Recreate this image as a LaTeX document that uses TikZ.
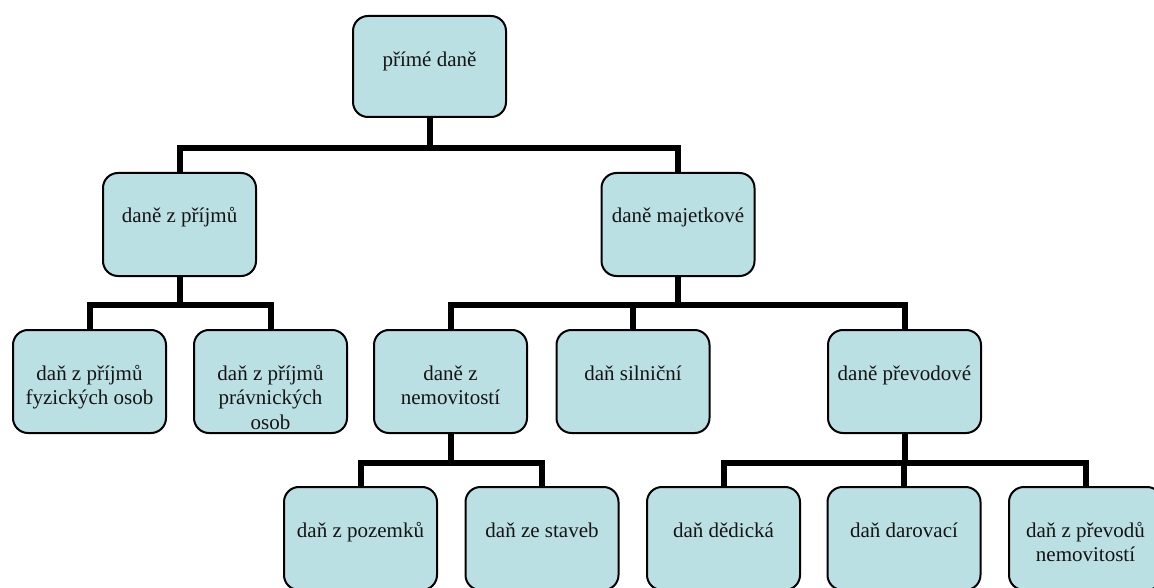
\documentclass[tikz,border=0pt]{standalone}
\usepackage{fontspec}
\setmainfont{Liberation Serif}
\usetikzlibrary{backgrounds}
\definecolor{boxfill}{RGB}{187,224,227}
\definecolor{txt}{RGB}{20,20,20}
\newcommand\btext[1]{\begin{tabular}[t]{@{}c@{}}#1\end{tabular}}
\begin{document}
\begin{tikzpicture}[x=1pt,y=-1pt,
  box/.style={draw=black, line width=2pt, fill=boxfill, rounded corners=15pt,
    minimum width=153pt, minimum height=103pt, inner sep=0pt},
  lbl/.style={anchor=base, inner sep=0pt, text=txt, font=\fontsize{21}{24.5}\selectfont},
  conn/.style={draw=black, line width=6pt, line join=miter, line cap=rect}]
\useasboundingbox (0,0) rectangle (1154,588);
\coordinate (b1) at (0,148);
\coordinate (b2) at (0,305);
\coordinate (b3) at (0,463);
% boxes
\node[box, minimum height=101pt] (root) at (429.5,66.5) {};
\node[box] (inc) at (179.5,224.5) {};
\node[box] (prop) at (678,224.5) {};
\node[box] (fo) at (89.5,381.5) {};
\node[box] (po) at (270.5,381.5) {};
\node[box] (nem) at (450.5,381.5) {};
\node[box] (sil) at (633,381.5) {};
\node[box] (prev) at (904.5,381.5) {};
\node[box] (poz) at (360.5,538.5) {};
\node[box] (sta) at (542,538.5) {};
\node[box] (ded) at (723.5,538.5) {};
\node[box] (dar) at (904,538.5) {};
\node[box] (pn) at (1085.5,538.5) {};
% connectors
\begin{scope}[on background layer]
\draw[conn] (root.south) |- (inc.north |- b1) -- (inc.north);
\draw[conn] (root.south) |- (prop.north |- b1) -- (prop.north);
\draw[conn] (inc.south) |- (fo.north |- b2) -- (fo.north);
\draw[conn] (inc.south) |- (po.north |- b2) -- (po.north);
\draw[conn] (prop.south) |- (nem.north |- b2) -- (nem.north);
\draw[conn] (prop.south) |- (sil.north |- b2) -- (sil.north);
\draw[conn] (prop.south) |- (prev.north |- b2) -- (prev.north);
\draw[conn] (nem.south) |- (poz.north |- b3) -- (poz.north);
\draw[conn] (nem.south) |- (sta.north |- b3) -- (sta.north);
\draw[conn] (prev.south) |- (ded.north |- b3) -- (ded.north);
\draw[conn] (prev.south) |- (dar.north |- b3) -- (dar.north);
\draw[conn] (prev.south) |- (pn.north |- b3) -- (pn.north);
\end{scope}
% texts
\node[lbl] (t-root) at ([yshift=-52pt]root.north) {\btext{přímé daně}};
\node[lbl] (t-inc) at ([yshift=-51pt]inc.north) {\btext{daně z příjmů}};
\node[lbl] (t-prop) at ([yshift=-51pt]prop.north) {\btext{daně majetkové}};
\node[lbl] (t-fo) at ([yshift=-51pt]fo.north) {\btext{daň z příjmů\\fyzických osob}};
\node[lbl] (t-po) at ([yshift=-51pt]po.north) {\btext{daň z příjmů\\právnických\\osob}};
\node[lbl] (t-nem) at ([yshift=-51pt]nem.north) {\btext{daně z\\nemovitostí}};
\node[lbl] (t-sil) at ([yshift=-51pt]sil.north) {\btext{daň silniční}};
\node[lbl] (t-prev) at ([yshift=-51pt]prev.north) {\btext{daně převodové}};
\node[lbl] (t-poz) at ([yshift=-51pt]poz.north) {\btext{daň z pozemků}};
\node[lbl] (t-sta) at ([yshift=-51pt]sta.north) {\btext{daň ze staveb}};
\node[lbl] (t-ded) at ([yshift=-51pt]ded.north) {\btext{daň dědická}};
\node[lbl] (t-dar) at ([yshift=-51pt]dar.north) {\btext{daň darovací}};
\node[lbl] (t-pn) at ([yshift=-51pt]pn.north) {\btext{daň z převodů\\nemovitostí}};
\end{tikzpicture}
\end{document}
